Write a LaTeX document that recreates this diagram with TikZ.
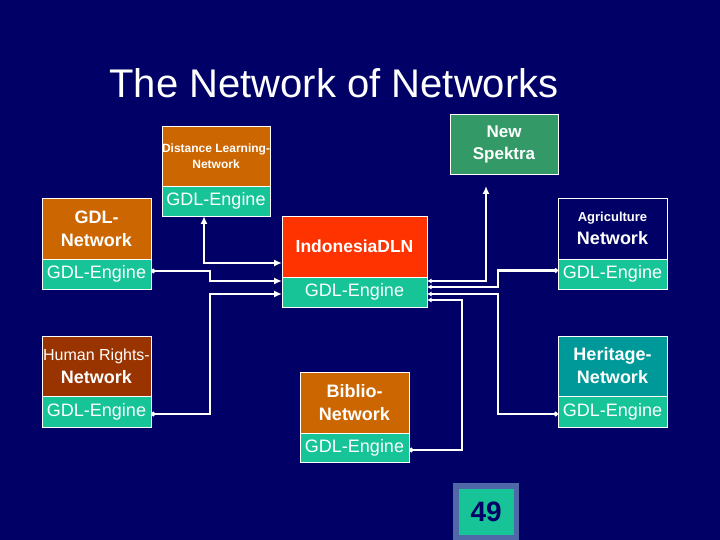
\documentclass[tikz,border=0pt]{standalone}
\usepackage{fontspec}
\setmainfont{Liberation Sans}
\usetikzlibrary{arrows.meta}
\definecolor{bgnavy}{RGB}{0,0,102}
\definecolor{engteal}{RGB}{22,196,152}
\definecolor{orangebox}{RGB}{204,102,0}
\definecolor{redbox}{RGB}{255,51,0}
\definecolor{brownbox}{RGB}{153,51,0}
\definecolor{greenbox}{RGB}{51,153,102}
\definecolor{tealbox}{RGB}{0,153,153}
\definecolor{pageblue}{RGB}{80,104,168}
\tikzset{
  tipin/.tip={Latex[length=8pt,width=7pt]},
  tipsm/.tip={Latex[length=4.5pt,width=5pt]},
  tipdot/.tip={Circle[length=4.5pt]}
}
\begin{document}
\begin{tikzpicture}[x=1pt,y=-1pt,
  box/.style={draw=white,line width=0.8pt,inner sep=0pt,outer sep=0pt,anchor=north west,
    minimum width=109pt,text=white,align=center},
  upbox/.style={box,minimum height=61pt,font=\fontsize{18}{23}\selectfont\bfseries},
  eng/.style={box,minimum height=30pt,fill=engteal,text=white,font=\fontsize{18}{20}\selectfont},
  conn/.style={draw=white,line width=2.5pt}
]
\useasboundingbox (0,0) rectangle (720,540);
\fill[bgnavy] (0,0) rectangle (720,540);

\node[text=white,font=\fontsize{40}{44}\selectfont,anchor=base] (title) at (334,98) {The Network of Networks};

% Distance Learning
\node[upbox,fill=orangebox,minimum width=108pt,minimum height=60pt,font=\fontsize{12}{15.5}\selectfont\bfseries] (dl) at (162,126) {Distance Learning-\\Network};
\node[eng,minimum width=108pt] (dle) at (162,186) {GDL-Engine};

% New Spektra
\node[upbox,fill=greenbox,minimum width=108pt,minimum height=60pt,font=\fontsize{17}{22}\selectfont\bfseries] (ns) at (450,114) {New\\Spektra};

% GDL Network
\node[upbox,fill=orangebox] (gdl) at (42,198) {GDL-\\Network};
\node[eng] (gdle) at (42,259) {GDL-Engine};

% Indonesia
\node[upbox,fill=redbox,minimum width=145pt,font=\fontsize{17.5}{22}\selectfont\bfseries] (ind) at (282,216) {IndonesiaDLN};
\node[eng,minimum width=145pt] (inde) at (282,277) {GDL-Engine};

% Agriculture
\node[upbox,fill=bgnavy] (ag) at (558,198) {{\fontsize{13}{16}\selectfont Agriculture}\\Network};
\node[eng] (age) at (558,259) {GDL-Engine};

% Human Rights
\node[upbox,fill=brownbox,minimum height=60pt] (hr) at (42,336) {{\fontsize{16}{18}\selectfont\mdseries Human Rights-}\\Network};
\node[eng,minimum height=31pt] (hre) at (42,396) {GDL-Engine};

% Biblio
\node[upbox,fill=orangebox] (bi) at (300,372) {Biblio-\\Network};
\node[eng,minimum height=29pt] (bie) at (300,433) {GDL-Engine};

% Heritage
\node[upbox,fill=tealbox,minimum height=60pt] (he) at (558,336) {Heritage-\\Network};
\node[eng,minimum height=31pt] (hee) at (558,396) {GDL-Engine};

% page number
\node[fill=pageblue,inner sep=0pt,minimum width=66pt,minimum height=57pt,anchor=north west] (pg) at (453,483) {};
\node[fill=engteal,inner sep=0pt,minimum width=55pt,minimum height=46pt,text=bgnavy,
  font=\fontsize{28}{30}\selectfont\bfseries] (pgn) at (pg.center) {49};

% connectors, left side
\draw[conn,tipin-tipin] ([xshift=-12pt]dle.south) |- ([yshift=14pt]ind.south west);
\draw[conn,tipdot-tipin] ([yshift=3pt]gdle.east) -- ++(59,0) |- ([yshift=11pt]inde.west);
\draw[conn,tipdot-tipin] ([yshift=-2.5pt]hre.east) -- ++(59,0) |- ([yshift=-2pt]inde.west);

% connectors, right side
\draw[conn,tipsm-tipin] ([yshift=11pt]inde.east) -| ([xshift=-18pt,yshift=-12pt]ns.south);
\draw[conn,tipsm-tipdot] ([yshift=5pt]inde.east) -- ++(71,0) |- ([yshift=3.5pt]age.west);
\draw[conn,tipsm-tipdot] ([yshift=-2pt]inde.east) -- ++(71,0) |- ([yshift=-2.5pt]hee.west);
\draw[conn,tipsm-tipdot] ([yshift=-8pt]inde.east) -- ++(35,0) |- ([yshift=-2.5pt]bie.east);
\end{tikzpicture}
\end{document}
